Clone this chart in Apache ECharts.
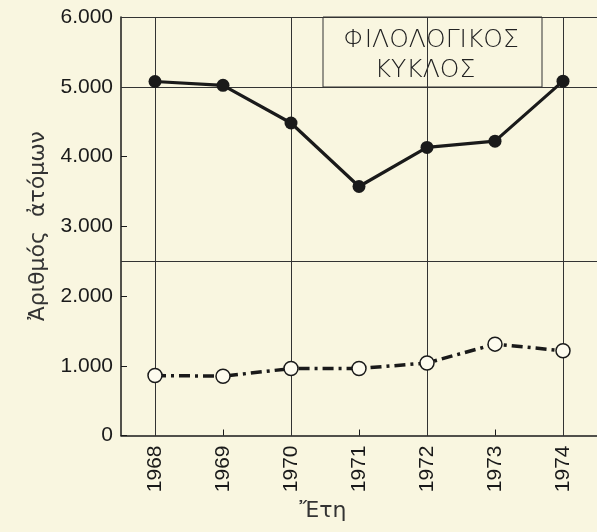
<!DOCTYPE html>
<html>
<head>
<meta charset="utf-8">
<script src="https://cdn.jsdelivr.net/npm/echarts@6/dist/echarts.min.js"></script>
<style>
html,body{margin:0;padding:0;background:#f9f6e0;}
#c{width:597px;height:532px;}
</style>
</head>
<body>
<div id="c"></div>
<script>
const years = ['1968','1969','1970','1971','1972','1973','1974'];
const philologySolid = [5075, 5020, 4480, 3570, 4130, 4220, 5080];
const otherDashed = [860, 850, 960, 960, 1040, 1310, 1215];
const yTicks = [0, 1000, 2000, 3000, 4000, 5000, 6000];
const yLabels = ['0', '1.000', '2.000', '3.000', '4.000', '5.000', '6.000'];
const hLines = [6000, 5000, 2500];
const vLines = ['1968', '1970', '1972', '1974'];
const titleLines = ['ΦΙΛΟΛΟΓΙΚΟΣ', 'ΚΥΚΛΟΣ'];
const yName = 'Ἀριθμός  ἀτόμων';
const xName = 'Ἔτη';

const BG = '#f9f6e0';
const INK = '#1a1a1a';
const chart = echarts.init(document.getElementById('c'));
chart.setOption({
  backgroundColor: BG,
  animation: false,
  grid: {left: 121, top: 17, width: 482, height: 418.5},
  xAxis: {
    type: 'category', data: years, boundaryGap: true,
    axisLine: {show: true, lineStyle: {color: INK, width: 1.5}},
    axisTick: {show: true, inside: true, alignWithLabel: true, length: 6, lineStyle: {color: INK, width: 1}},
    axisLabel: {rotate: 90, margin: 10, fontFamily: 'Liberation Sans', fontSize: 21, color: INK},
    splitLine: {show: false}
  },
  yAxis: {
    type: 'value', min: 0, max: 6000, interval: 1000,
    axisLine: {show: true, lineStyle: {color: INK, width: 1.5}},
    axisTick: {show: true, inside: true, length: 6, lineStyle: {color: INK, width: 1}},
    axisLabel: {margin: 8, fontFamily: 'Liberation Sans', fontSize: 21, color: INK,
      formatter: v => yLabels[yTicks.indexOf(v)]},
    splitLine: {show: false},
    name: yName, nameLocation: 'middle', nameRotate: 90, nameGap: 68,
    nameTextStyle: {fontFamily: 'DejaVu Sans', fontSize: 22, color: '#333'}
  },
  series: [
    {
      type: 'line', data: philologySolid, z: 5,
      symbol: 'circle', symbolSize: 13,
      itemStyle: {color: INK},
      lineStyle: {color: INK, width: 3.2},
      markLine: {
        silent: true, symbol: 'none', animation: false,
        label: {show: false},
        lineStyle: {color: '#333', width: 1, type: 'solid'},
        data: hLines.map(v => ({yAxis: v})).concat(vLines.map(v => ({xAxis: v})))
      }
    },
    {
      type: 'line', data: otherDashed, z: 5,
      symbol: 'circle', symbolSize: 14,
      itemStyle: {color: '#fdfbee', borderColor: INK, borderWidth: 1.5},
      lineStyle: {color: INK, width: 3.5, type: [11, 5, 3, 5]}
    }
  ],
  graphic: [
    {type: 'rect', z: 3, shape: {x: 323, y: 17, width: 219, height: 70},
      style: {fill: BG, stroke: '#333', lineWidth: 1}},
    {type: 'text', z: 4, x: 431, y: 40,
      style: {text: titleLines[0], fontFamily: 'DejaVu Sans', fontWeight: 300, fontSize: 25, fill: '#222', align: 'center', verticalAlign: 'middle'}},
    {type: 'text', z: 4, x: 425, y: 70,
      style: {text: titleLines[1], fontFamily: 'DejaVu Sans', fontWeight: 300, fontSize: 25, fill: '#222', align: 'center', verticalAlign: 'middle'}},
    {type: 'text', z: 4, x: 323, y: 511,
      style: {text: xName, fontFamily: 'DejaVu Sans', fontSize: 22, fill: '#333', align: 'center', verticalAlign: 'middle'}}
  ]
});
</script>
</body>
</html>
